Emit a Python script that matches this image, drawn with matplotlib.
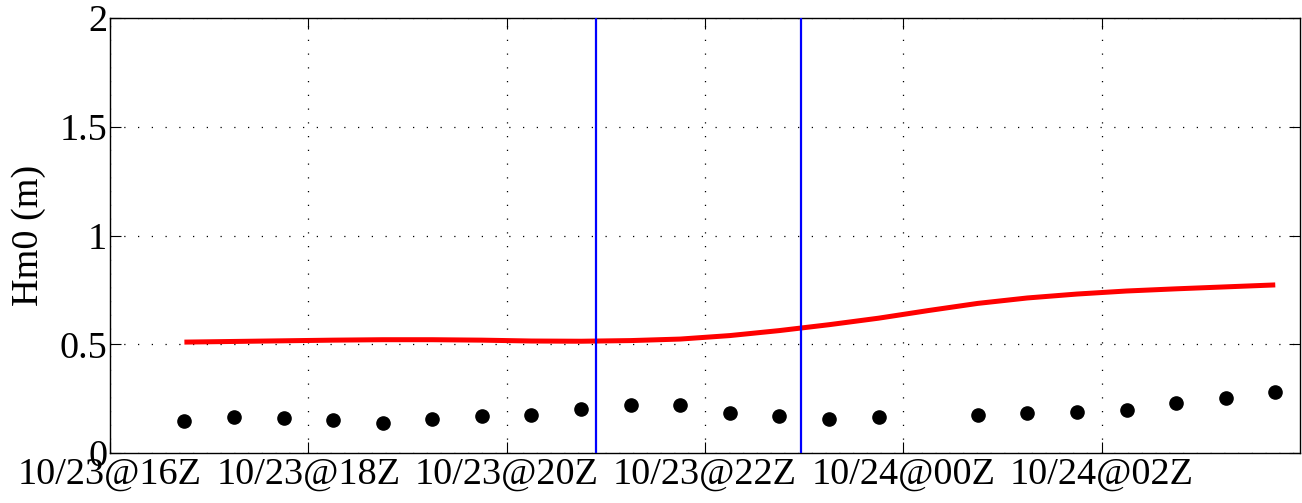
import matplotlib
matplotlib.use("Agg")
import matplotlib.pyplot as plt
import matplotlib.dates as mdates
import pandas as pd

obs_times = ["2023-10-23 16:45", "2023-10-23 17:15", "2023-10-23 17:45", "2023-10-23 18:15",
             "2023-10-23 18:45", "2023-10-23 19:15", "2023-10-23 19:45", "2023-10-23 20:15",
             "2023-10-23 20:45", "2023-10-23 21:15", "2023-10-23 21:45", "2023-10-23 22:15",
             "2023-10-23 22:45", "2023-10-23 23:15", "2023-10-23 23:45",
             "2023-10-24 00:45", "2023-10-24 01:15", "2023-10-24 01:45", "2023-10-24 02:15",
             "2023-10-24 02:45", "2023-10-24 03:15", "2023-10-24 03:45"]
obs_hm0 = [0.148, 0.167, 0.161, 0.151, 0.138, 0.156, 0.171, 0.177, 0.201, 0.222, 0.219,
           0.184, 0.170, 0.156, 0.166, 0.176, 0.184, 0.187, 0.196, 0.231, 0.251, 0.282]

model_times = ["2023-10-23 16:45", "2023-10-23 17:15", "2023-10-23 17:45", "2023-10-23 18:15",
               "2023-10-23 18:45", "2023-10-23 19:15", "2023-10-23 19:45", "2023-10-23 20:15",
               "2023-10-23 20:45", "2023-10-23 21:15", "2023-10-23 21:45", "2023-10-23 22:15",
               "2023-10-23 22:45", "2023-10-23 23:15", "2023-10-23 23:45", "2023-10-24 00:15",
               "2023-10-24 00:45", "2023-10-24 01:15", "2023-10-24 01:45", "2023-10-24 02:15",
               "2023-10-24 02:45", "2023-10-24 03:15", "2023-10-24 03:45"]
model_hm0 = [0.510, 0.513, 0.516, 0.519, 0.521, 0.521, 0.519, 0.515, 0.514, 0.517, 0.524,
             0.540, 0.563, 0.590, 0.620, 0.655, 0.688, 0.713, 0.731, 0.745, 0.755, 0.764, 0.773]

vline_times = ["2023-10-23 20:54", "2023-10-23 22:58"]

xtick_times = ["2023-10-23 16:00", "2023-10-23 18:00", "2023-10-23 20:00",
               "2023-10-23 22:00", "2023-10-24 00:00", "2023-10-24 02:00"]
xtick_labels = ["10/23@16Z", "10/23@18Z", "10/23@20Z", "10/23@22Z", "10/24@00Z", "10/24@02Z"]
ytick_vals = [0, 0.5, 1, 1.5, 2]
ytick_labels = ["0", "0.5", "1", "1.5", "2"]
xlim_times = ["2023-10-23 16:00", "2023-10-24 04:00"]

plt.rcParams['font.family'] = ['Liberation Serif', 'DejaVu Serif']
plt.rcParams['font.size'] = 27.5

fig = plt.figure(figsize=(13.02, 5.03), dpi=100)
ax = fig.add_axes([0.0845, 0.0994, 0.914, 0.8646])

ot = pd.to_datetime(obs_times)
mt = pd.to_datetime(model_times)
ax.plot(mt, model_hm0, color='#ff0000', lw=3.6, solid_capstyle='butt', zorder=3)
ax.plot(ot, obs_hm0, 'o', color='black', ms=9.5, zorder=4)
for v in pd.to_datetime(vline_times):
    ax.axvline(v, color='#0000ff', lw=1.6, zorder=3)

ax.set_xlim(pd.to_datetime(xlim_times[0]), pd.to_datetime(xlim_times[1]))
ax.set_ylim(0, 2)
ax.set_xticks(pd.to_datetime(xtick_times))
ax.set_xticklabels(xtick_labels)
ax.set_yticks(ytick_vals)
ax.set_yticklabels(ytick_labels)
ax.set_ylabel("Hm0 (m)", labelpad=10)

ax.grid(True, color='black', linestyle=(0, (1, 10)), linewidth=0.9)
ax.tick_params(direction='in', top=True, right=True, length=8, width=0.8, pad=2)
ax.tick_params(axis='x', pad=3)
for s in ax.spines.values():
    s.set_linewidth(1.0)

fig.savefig("out.png", dpi=100)
